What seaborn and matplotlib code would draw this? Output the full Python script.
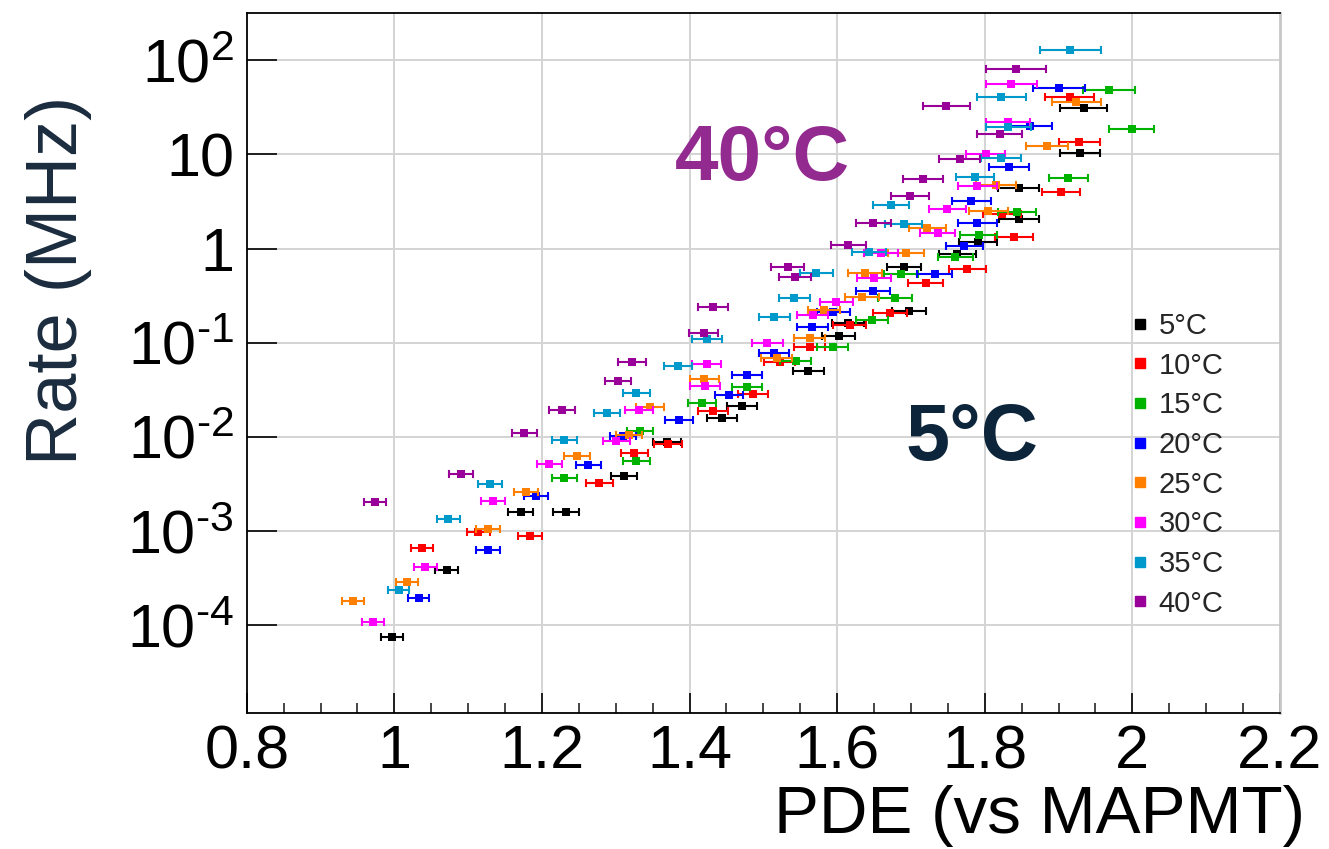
import numpy as np
import pandas as pd
import seaborn as sns
import matplotlib
matplotlib.use("Agg")
import matplotlib.pyplot as plt
from matplotlib.lines import Line2D
from matplotlib.ticker import FixedLocator, FixedFormatter, LogLocator, NullFormatter, MultipleLocator

# ---------------- data ----------------
labels = ["5°C", "10°C", "15°C", "20°C", "25°C", "30°C", "35°C", "40°C"]
colors = ["#000000", "#ff0000", "#00b300", "#0000ff", "#ff8000", "#ff00ff", "#0099cc", "#990099"]

pde_05 = [0.997, 1.071, 1.171, 1.233, 1.311, 1.370, 1.444, 1.471, 1.561, 1.602, 1.615, 1.697, 1.691, 1.763, 1.791, 1.846, 1.846, 1.929, 1.934]
rate_05 = [7.5e-5, 3.9e-4, 1.58e-3, 1.58e-3, 3.85e-3, 8.9e-3, 0.0158, 0.0213, 0.0506, 0.118, 0.161, 0.216, 0.634, 0.87, 1.18, 2.05, 4.37, 10.4, 30.9]
err_05 = [0.0145, 0.0155, 0.017, 0.0175, 0.018, 0.019, 0.02, 0.02, 0.021, 0.022, 0.022, 0.023, 0.023, 0.025, 0.026, 0.027, 0.028, 0.0275, 0.0315]

pde_10 = [1.037, 1.114, 1.184, 1.278, 1.325, 1.371, 1.432, 1.486, 1.522, 1.563, 1.617, 1.672, 1.720, 1.776, 1.840, 1.823, 1.903, 1.928, 1.915]
rate_10 = [6.7e-4, 9.7e-4, 8.9e-4, 3.27e-3, 6.8e-3, 8.4e-3, 0.019, 0.0284, 0.062, 0.0896, 0.155, 0.207, 0.428, 0.61, 1.33, 2.33, 4.02, 13.5, 40.5]
err_10 = [0.015, 0.016, 0.0165, 0.018, 0.0185, 0.019, 0.02, 0.02, 0.021, 0.021, 0.022, 0.023, 0.024, 0.025, 0.026, 0.026, 0.026, 0.028, 0.033]

pde_15 = [1.230, 1.328, 1.333, 1.417, 1.478, 1.544, 1.594, 1.647, 1.678, 1.686, 1.760, 1.792, 1.844, 1.913, 1.999, 1.968]
rate_15 = [3.7e-3, 5.5e-3, 0.0117, 0.0228, 0.0342, 0.064, 0.091, 0.173, 0.30, 0.538, 0.81, 1.39, 2.47, 5.58, 18.5, 48.4]
err_15 = [0.017, 0.018, 0.018, 0.019, 0.02, 0.021, 0.021, 0.022, 0.023, 0.023, 0.024, 0.025, 0.026, 0.0265, 0.0305, 0.035]

pde_20 = [1.033, 1.127, 1.192, 1.263, 1.310, 1.386, 1.453, 1.478, 1.514, 1.566, 1.595, 1.649, 1.732, 1.772, 1.790, 1.782, 1.833, 1.861, 1.901]
rate_20 = [1.94e-4, 6.3e-4, 2.36e-3, 5.0e-3, 0.0103, 0.0151, 0.0279, 0.0455, 0.0785, 0.148, 0.214, 0.355, 0.538, 1.07, 1.86, 3.23, 7.41, 20.0, 50.4]
err_20 = [0.0145, 0.016, 0.0165, 0.0175, 0.018, 0.0188, 0.019, 0.02, 0.0203, 0.021, 0.022, 0.023, 0.024, 0.025, 0.026, 0.026, 0.027, 0.03, 0.0354]

pde_25 = [0.944, 1.017, 1.127, 1.178, 1.247, 1.318, 1.346, 1.420, 1.518, 1.563, 1.582, 1.634, 1.638, 1.693, 1.722, 1.805, 1.815, 1.884, 1.924]
rate_25 = [1.83e-4, 2.9e-4, 1.05e-3, 2.62e-3, 6.3e-3, 0.0105, 0.0207, 0.0413, 0.0695, 0.112, 0.223, 0.304, 0.556, 0.906, 1.64, 2.53, 4.74, 12.3, 36.3]
err_25 = [0.0147, 0.015, 0.016, 0.0165, 0.0175, 0.018, 0.019, 0.02, 0.021, 0.021, 0.022, 0.023, 0.023, 0.024, 0.025, 0.026, 0.027, 0.0285, 0.033]

pde_30 = [0.971, 1.042, 1.134, 1.210, 1.301, 1.332, 1.421, 1.423, 1.505, 1.567, 1.599, 1.650, 1.659, 1.736, 1.749, 1.790, 1.801, 1.831, 1.836]
rate_30 = [1.09e-4, 4.2e-4, 2.1e-3, 5.2e-3, 9.1e-3, 0.0193, 0.035, 0.0596, 0.100, 0.197, 0.273, 0.492, 0.89, 1.48, 2.64, 4.63, 10.1, 22.3, 56.0]
err_30 = [0.0147, 0.0158, 0.016, 0.017, 0.018, 0.019, 0.02, 0.02, 0.021, 0.021, 0.022, 0.023, 0.023, 0.024, 0.025, 0.026, 0.027, 0.03, 0.0345]

pde_35 = [1.006, 1.073, 1.130, 1.230, 1.288, 1.328, 1.384, 1.424, 1.515, 1.542, 1.572, 1.643, 1.690, 1.673, 1.787, 1.822, 1.832, 1.822, 1.916]
rate_35 = [2.4e-4, 1.34e-3, 3.2e-3, 9.3e-3, 0.0178, 0.0295, 0.0567, 0.109, 0.189, 0.301, 0.547, 0.927, 1.81, 2.9, 5.72, 9.24, 19.7, 41.0, 128.6]
err_35 = [0.0145, 0.0155, 0.016, 0.017, 0.018, 0.0185, 0.019, 0.02, 0.021, 0.021, 0.022, 0.023, 0.025, 0.025, 0.026, 0.027, 0.03, 0.0332, 0.0415]

pde_40 = [0.974, 1.090, 1.176, 1.227, 1.303, 1.322, 1.419, 1.432, 1.543, 1.533, 1.615, 1.649, 1.699, 1.716, 1.766, 1.820, 1.748, 1.842]
rate_40 = [2.06e-3, 4.0e-3, 0.0109, 0.0193, 0.0396, 0.063, 0.126, 0.238, 0.504, 0.643, 1.09, 1.86, 3.62, 5.45, 8.89, 16.5, 32.7, 80.9]
err_40 = [0.0151, 0.016, 0.017, 0.0175, 0.018, 0.019, 0.02, 0.0203, 0.022, 0.022, 0.0237, 0.024, 0.026, 0.027, 0.028, 0.0305, 0.0323, 0.0404]

x_ticks = [0.8, 1.0, 1.2, 1.4, 1.6, 1.8, 2.0, 2.2]
x_ticklabels = ["0.8", "1", "1.2", "1.4", "1.6", "1.8", "2", "2.2"]
y_ticks = [1e-4, 1e-3, 1e-2, 1e-1, 1, 10, 100]
y_ticklabels = [r"$10^{\text{-}4}$", r"$10^{\text{-}3}$", r"$10^{\text{-}2}$", r"$10^{\text{-}1}$", "1", "10", r"$10^{2}$"]

all_pde = [pde_05, pde_10, pde_15, pde_20, pde_25, pde_30, pde_35, pde_40]
all_rate = [rate_05, rate_10, rate_15, rate_20, rate_25, rate_30, rate_35, rate_40]
all_err = [err_05, err_10, err_15, err_20, err_25, err_30, err_35, err_40]

frames = []
for lab, p, r, e in zip(labels, all_pde, all_rate, all_err):
    frames.append(pd.DataFrame({"PDE": p, "Rate": r, "err": e, "T": lab}))
df = pd.concat(frames, ignore_index=True)

# ---------------- style ----------------
sns.set_theme(style="white")
plt.rcParams["font.family"] = ["Liberation Sans", "DejaVu Sans"]
plt.rcParams["mathtext.fontset"] = "custom"
plt.rcParams["mathtext.rm"] = "Liberation Sans"
plt.rcParams["mathtext.it"] = "Liberation Sans:italic"
plt.rcParams["mathtext.bf"] = "Liberation Sans:bold"

W, H = 1329, 849
fig = plt.figure(figsize=(W / 100, H / 100), dpi=100)
fig.patch.set_facecolor("white")
ax = fig.add_axes([246.7 / W, 1 - 713 / H, (1280 - 246.7) / W, (713 - 12.7) / H])

ax.set_xscale("linear")
ax.set_yscale("log")
ax.set_xlim(0.8, 2.2)
ax.set_ylim(1.172e-5, 320)

# grid
for xv in x_ticks[1:-1]:
    ax.axvline(xv, color="#d4d4d4", lw=1.4, zorder=0)
for yv in y_ticks:
    ax.axhline(yv, color="#d4d4d4", lw=1.4, zorder=0)

# data
for i, lab in enumerate(labels):
    d = df[df["T"] == lab]
    ax.errorbar(d["PDE"], d["Rate"], xerr=d["err"], fmt="none", ecolor=colors[i],
                elinewidth=1.5, capsize=2.7, capthick=1.5, zorder=3 + 2 * i)
    sns.scatterplot(data=d, x="PDE", y="Rate", ax=ax, marker="s", color=colors[i],
                    s=40, linewidth=0, legend=False, zorder=4 + 2 * i)

# axes / ticks
ax.xaxis.set_major_locator(FixedLocator(x_ticks))
ax.xaxis.set_major_formatter(FixedFormatter(x_ticklabels))
ax.xaxis.set_minor_locator(MultipleLocator(0.05))
ax.yaxis.set_major_locator(FixedLocator(y_ticks))
ax.yaxis.set_major_formatter(FixedFormatter(y_ticklabels))
ax.yaxis.set_minor_locator(LogLocator(base=10, subs=np.arange(2, 10)))
ax.yaxis.set_minor_formatter(NullFormatter())

ax.tick_params(axis="x", which="major", direction="in", length=14.4, width=1.2, labelsize=44, pad=8, colors="black")
ax.tick_params(axis="x", which="minor", direction="in", length=7.2, width=1.2)
ax.tick_params(axis="y", which="major", direction="in", length=21.6, width=1.2, labelsize=44, pad=9, colors="black")
ax.tick_params(axis="y", which="minor", direction="in", length=10.8, width=1.2)
ax.tick_params(axis="both", which="both", bottom=True, left=True, top=False, right=False)

for s in ["left", "bottom", "top"]:
    ax.spines[s].set_color("black")
    ax.spines[s].set_linewidth(1.3)
ax.spines["right"].set_color("#c8c8c8")
ax.spines["right"].set_linewidth(2.0)

ax.set_xlabel("")
ax.set_ylabel("")

# axis titles
fig.text(1305 / W, 1 - 833 / H, "PDE (vs MAPMT)", fontsize=48.5, ha="right", va="baseline", color="black")
fig.text(58 / W, 1 - 280 / H, "Rate (MHz)", fontsize=52, rotation=90, ha="center", va="center", color="#1b2c3e")

# annotations
fig.text(675 / W, 1 - 180 / H, "40°C", fontsize=56.5, fontweight="bold", color="#922a8f", ha="left", va="baseline")
fig.text(906 / W, 1 - 460 / H, "5°C", fontsize=57, fontweight="bold", color="#0d253a", ha="left", va="baseline")

# legend
handles = [Line2D([], [], marker="s", ls="", color=c, markersize=7.5) for c in colors]
leg = ax.legend(handles, labels, loc="upper left", bbox_to_anchor=(1131 / W, 1 - 312 / H),
                bbox_transform=fig.transFigure, frameon=False, fontsize=21,
                handlelength=0.6, handletextpad=0.35, labelspacing=0.40, borderpad=0,
                borderaxespad=0)
leg.set_zorder(30)

fig.savefig("out.png", dpi=100, facecolor="white")
